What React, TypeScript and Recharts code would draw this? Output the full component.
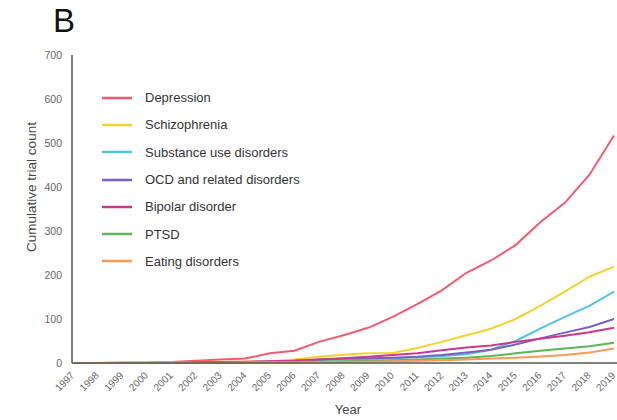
import React from 'react';
import { Line, LineChart, XAxis, YAxis } from 'recharts';

const years = [
  '1997', '1998', '1999', '2000', '2001', '2002', '2003', '2004', '2005', '2006', '2007', '2008',
  '2009', '2010', '2011', '2012', '2013', '2014', '2015', '2016', '2017', '2018', '2019',
];

const depression = [0, 0, 1, 1, 2, 5, 8, 10, 22, 28, 48, 63, 80, 105, 134, 165, 205, 233, 268, 320, 364, 428, 517];
const schizophrenia = [0, 0, 0, 0, 1, 2, 3, 3, 4, 8, 14, 19, 22, 23, 34, 48, 63, 78, 100, 130, 162, 196, 219];
const substance = [0, 0, 0, 0, 0, 1, 1, 2, 3, 4, 6, 8, 9, 11, 13, 16, 20, 30, 50, 78, 105, 130, 162];
const ocd = [0, 0, 0, 0, 0, 1, 1, 2, 3, 5, 8, 10, 11, 12, 14, 18, 24, 30, 42, 56, 69, 82, 100];
const bipolar = [0, 0, 0, 0, 0, 1, 2, 3, 4, 5, 8, 11, 14, 18, 22, 29, 35, 40, 48, 55, 62, 70, 80];
const ptsd = [0, 0, 0, 0, 0, 0, 1, 1, 2, 2, 3, 4, 5, 6, 8, 10, 12, 16, 22, 28, 33, 38, 46];
const eating = [0, 0, 0, 0, 0, 0, 0, 1, 1, 1, 2, 2, 3, 4, 5, 6, 8, 10, 12, 15, 18, 24, 33];

const yTicks = [0, 100, 200, 300, 400, 500, 600, 700];

const series = [
  { key: 'depression', name: 'Depression', color: '#f45a6f', values: depression },
  { key: 'schizophrenia', name: 'Schizophrenia', color: '#f3d22b', values: schizophrenia },
  { key: 'substance', name: 'Substance use disorders', color: '#4fc3e2', values: substance },
  { key: 'ocd', name: 'OCD and related disorders', color: '#7a5fc7', values: ocd },
  { key: 'bipolar', name: 'Bipolar disorder', color: '#c93a8b', values: bipolar },
  { key: 'ptsd', name: 'PTSD', color: '#5db55b', values: ptsd },
  { key: 'eating', name: 'Eating disorders', color: '#f99a57', values: eating },
];

const data = years.map((year, i) => {
  const row: Record<string, string | number> = { year };
  series.forEach((s) => {
    row[s.key] = s.values[i];
  });
  return row;
});

const FONT = '"Liberation Sans", Arial, sans-serif';

function YearTick({ x, y, payload }: any) {
  const ax = x + 2;
  const ay = y + 11;
  return (
    <text
      x={ax}
      y={ay}
      transform={`rotate(-45 ${ax} ${ay})`}
      textAnchor="end"
      fontSize={10}
      fill="#666"
      fontFamily={FONT}
    >
      {payload.value}
    </text>
  );
}

// legend drawn as a plain list so it keeps the series order and takes no plot space
function SeriesLegend() {
  return (
    <div
      style={{
        position: 'absolute',
        left: 102,
        top: 84,
        fontFamily: FONT,
        fontSize: 13,
        color: '#333',
      }}
    >
      {series.map((s) => (
        <div key={s.key} style={{ display: 'flex', alignItems: 'center', height: 27.3 }}>
          <svg width={30} height={4} style={{ marginRight: 13 }}>
            <line x1={0} y1={2} x2={30} y2={2} stroke={s.color} strokeWidth={2.5} />
          </svg>
          <span>{s.name}</span>
        </div>
      ))}
    </div>
  );
}

export default function App() {
  return (
    <div
      style={{
        position: 'absolute',
        left: 0,
        top: 0,
        width: 617,
        height: 420,
        overflow: 'hidden',
        background: '#fff',
      }}
    >
      <div
        style={{
          position: 'absolute',
          left: 53,
          top: 2,
          fontFamily: FONT,
          fontSize: 33,
          color: '#111',
          lineHeight: '38px',
        }}
      >
        B
      </div>
      <LineChart width={624} height={420} data={data} margin={{ top: 55, right: 0, left: 0, bottom: 0 }}>
        <XAxis
          dataKey="year"
          height={57}
          padding={{ left: 1, right: 10 }}
          axisLine={{ stroke: '#555', strokeWidth: 1.5 }}
          tickLine={false}
          tickSize={0}
          interval={0}
          tick={<YearTick />}
          label={{
            content: () => (
              <text x={348} y={414} textAnchor="middle" fontSize={13} fill="#444" fontFamily={FONT}>
                Year
              </text>
            ),
          }}
        />
        <YAxis
          width={72}
          domain={[0, 700]}
          ticks={yTicks}
          interval={0}
          axisLine={{ stroke: '#555', strokeWidth: 1.5 }}
          tickLine={false}
          tickSize={0}
          tickMargin={10}
          tick={{ fontSize: 10.5, fill: '#666', fontFamily: FONT }}
          label={{
            content: () => (
              <text
                x={36}
                y={187}
                transform="rotate(-90 36 187)"
                textAnchor="middle"
                fontSize={13.5}
                fill="#444"
                fontFamily={FONT}
              >
                Cumulative trial count
              </text>
            ),
          }}
        />
        {series.map((s) => (
          <Line
            key={s.key}
            dataKey={s.key}
            name={s.name}
            stroke={s.color}
            strokeWidth={2}
            dot={false}
            type="linear"
            isAnimationActive={false}
          />
        ))}
      </LineChart>
      <SeriesLegend />
    </div>
  );
}
